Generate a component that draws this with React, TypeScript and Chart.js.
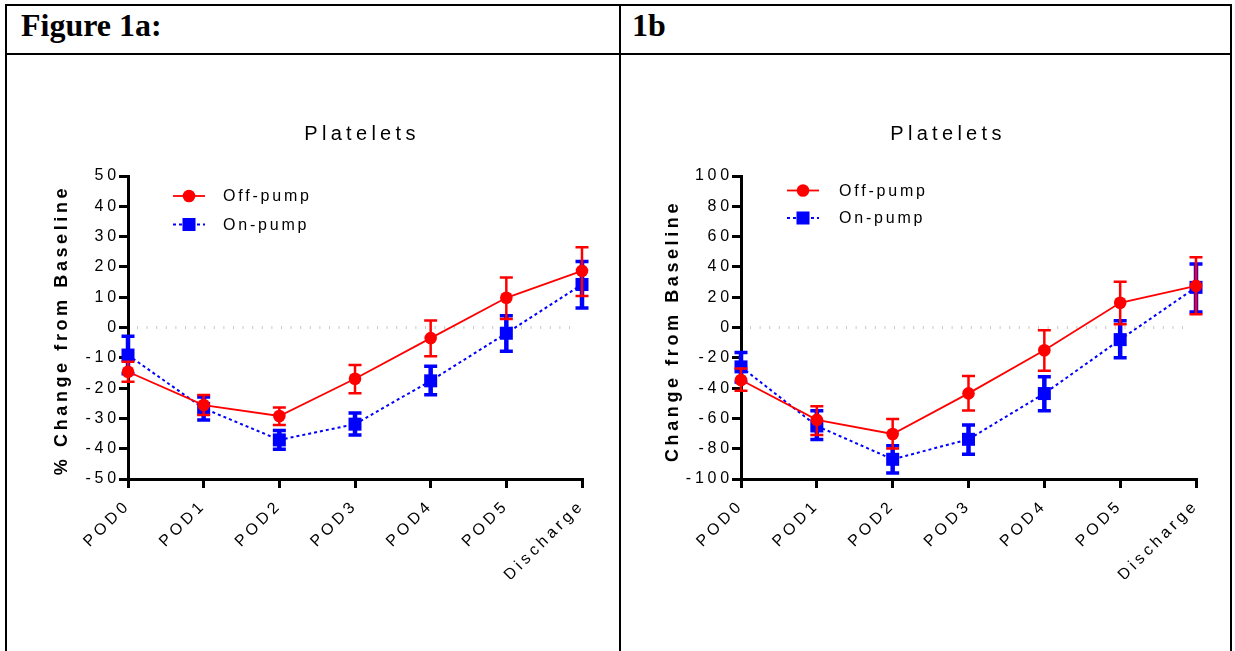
import React, { useEffect, useRef } from 'react';
import { Chart, registerables } from 'chart.js';

Chart.register(...registerables);

// ---------- data ----------
const categories = ['POD0', 'POD1', 'POD2', 'POD3', 'POD4', 'POD5', 'Discharge'];
const seriesNames = ['Off-pump', 'On-pump'];
const chartTitle = 'Platelets';
const headerA = 'Figure 1a:';
const headerB = '1b';
const yTitleA = '% Change from Baseline';
const yTitleB = 'Change from Baseline';

const yTicksA = [-50, -40, -30, -20, -10, 0, 10, 20, 30, 40, 50];
const yTicksB = [-100, -80, -60, -40, -20, 0, 20, 40, 60, 80, 100];

// Figure 1a (% change)
const offA = [-14.6, -25.6, -29.2, -16.9, -3.5, 9.8, 18.7];
const offALow = [-17.9, -28.9, -32.2, -21.7, -9.5, 2.8, 10.4];
const offAHigh = [-11.3, -22.3, -26.4, -12.4, 2.3, 16.5, 26.5];
const onA = [-9.1, -26.7, -37.1, -31.9, -17.6, -1.9, 14.2];
const onALow = [-15.3, -30.5, -40.2, -35.5, -22.2, -7.8, 6.4];
const onAHigh = [-2.9, -22.9, -34.0, -28.2, -12.8, 3.9, 21.8];

// Figure 1b (absolute change)
const offB = [-34.7, -61, -70.3, -43.5, -15, 16.3, 27.5];
const offBLow = [-41.8, -71, -79.8, -54.8, -28.5, 2.2, 8.8];
const offBHigh = [-27, -52, -60.4, -32, -1.8, 30.2, 46.4];
const onB = [-26, -65, -87, -73.8, -43.6, -8, 26.5];
const onBLow = [-36, -74, -96, -83.7, -55, -20, 10.3];
const onBHigh = [-16.5, -55, -78, -64.4, -32.5, 4.4, 41.9];

// ---------- styling ----------
const SANS = '"Liberation Sans", Arial, sans-serif';
const RED = '#ff0000';
const BLUE = '#0000ff';
const TICK_SPACING = '3.8px';

const decorPlugin = {
  id: 'decor',
  beforeLayout(chart: any) {
    chart.ctx.letterSpacing = TICK_SPACING;
  },
  beforeDraw(chart: any) {
    chart.ctx.letterSpacing = TICK_SPACING;
  },
  beforeDatasetsDraw(chart: any) {
    const { ctx, chartArea } = chart;
    const y0 = chart.scales.y.getPixelForValue(0);
    ctx.save();
    ctx.strokeStyle = '#c8c8c8';
    ctx.lineWidth = 3;
    ctx.setLineDash([1, 8.6]);
    ctx.beginPath();
    ctx.moveTo(chartArea.left + 9, y0);
    ctx.lineTo(chartArea.right - 6, y0);
    ctx.stroke();
    ctx.restore();
  },
  beforeDatasetDraw(chart: any, args: any) {
    const { ctx } = chart;
    const ds = chart.data.datasets[args.index];
    const meta = chart.getDatasetMeta(args.index);
    const ys = chart.scales.y;
    ctx.save();
    ctx.strokeStyle = ds.borderColor;
    ctx.setLineDash([]);
    ctx.lineCap = 'butt';
    meta.data.forEach((pt: any, i: number) => {
      const x = pt.x;
      const yl = ys.getPixelForValue(ds.errLow[i]);
      const yh = ys.getPixelForValue(ds.errHigh[i]);
      ctx.lineWidth = ds.errStem;
      ctx.beginPath();
      ctx.moveTo(x, yh);
      ctx.lineTo(x, yl);
      ctx.stroke();
      ctx.lineWidth = ds.errCap;
      const hw = ds.capWidth / 2;
      ctx.beginPath();
      ctx.moveTo(x - hw, yh);
      ctx.lineTo(x + hw, yh);
      ctx.moveTo(x - hw, yl);
      ctx.lineTo(x + hw, yl);
      ctx.stroke();
    });
    ctx.restore();
  },
  afterDraw(chart: any, _args: any, opts: any) {
    const { ctx } = chart;
    ctx.save();
    ctx.fillStyle = '#000';
    // chart title
    ctx.font = `20px ${SANS}`;
    ctx.letterSpacing = '4.3px';
    ctx.textAlign = 'center';
    ctx.textBaseline = 'middle';
    ctx.fillText(opts.title, opts.titleX, opts.titleY);
    // y axis title
    ctx.save();
    ctx.translate(opts.yTitleX, opts.yTitleY);
    ctx.rotate(-Math.PI / 2);
    ctx.font = `bold 18px ${SANS}`;
    ctx.letterSpacing = '3.6px';
    ctx.fillText(opts.yTitle, 0, 0);
    ctx.restore();
    // legend
    chart.data.datasets.forEach((ds: any, i: number) => {
      const y = opts.legendY + i * opts.legendGap;
      const x0 = opts.legendLineX;
      const x1 = x0 + 32;
      const cx = (x0 + x1) / 2;
      ctx.save();
      ctx.strokeStyle = ds.borderColor;
      ctx.lineWidth = ds.borderWidth;
      ctx.setLineDash(ds.borderDash || []);
      ctx.beginPath();
      ctx.moveTo(x0, y);
      ctx.lineTo(x1, y);
      ctx.stroke();
      ctx.setLineDash([]);
      ctx.fillStyle = ds.borderColor;
      if (ds.pointStyle === 'rect') {
        const s = ds.pointRadius * Math.SQRT1_2;
        ctx.fillRect(cx - s, y - s, 2 * s, 2 * s);
      } else {
        ctx.beginPath();
        ctx.arc(cx, y, ds.pointRadius, 0, Math.PI * 2);
        ctx.fill();
      }
      ctx.restore();
      ctx.fillStyle = '#000';
      ctx.font = `16px ${SANS}`;
      ctx.letterSpacing = '2.8px';
      ctx.textAlign = 'left';
      ctx.textBaseline = 'middle';
      ctx.fillText(ds.label, opts.legendTextX, y + 1);
    });
    ctx.restore();
  },
};

type Cfg = {
  left: number; top: number; w: number; h: number;
  areaLeft: number; areaTop: number; padRight: number; xAxisH: number; padBottom: number;
  titleX: number; titleY: number; yTitleX: number; yTitleY: number;
  legendLineX: number; legendY: number; legendGap: number; legendTextX: number;
};

const cfgA: Cfg = {
  left: 7, top: 55, w: 612, h: 596,
  areaLeft: 121, areaTop: 121, padRight: 37, xAxisH: 100, padBottom: 72,
  titleX: 355, titleY: 79, yTitleX: 55, yTitleY: 275,
  legendLineX: 166, legendY: 141, legendGap: 28.5, legendTextX: 216,
};
const cfgB: Cfg = {
  left: 621, top: 55, w: 609, h: 596,
  areaLeft: 120, areaTop: 121, padRight: 34, xAxisH: 100, padBottom: 72,
  titleX: 327, titleY: 79, yTitleX: 52, yTitleY: 276,
  legendLineX: 166, legendY: 135.5, legendGap: 27.5, legendTextX: 218,
};

function makeDatasets(off: number[], offLow: number[], offHigh: number[], on: number[], onLow: number[], onHigh: number[]) {
  return [
    {
      label: seriesNames[0], data: off, errLow: offLow, errHigh: offHigh,
      borderColor: RED, backgroundColor: RED, pointBackgroundColor: RED, pointBorderColor: RED,
      borderWidth: 1.8, pointStyle: 'circle', pointRadius: 6.3, pointBorderWidth: 0,
      errStem: 2.5, errCap: 2.5, capWidth: 13, tension: 0, clip: false,
    },
    {
      label: seriesNames[1], data: on, errLow: onLow, errHigh: onHigh,
      borderColor: BLUE, backgroundColor: BLUE, pointBackgroundColor: BLUE, pointBorderColor: BLUE,
      borderWidth: 2, borderDash: [3, 3], pointStyle: 'rect', pointRadius: 9.2, pointBorderWidth: 0,
      errStem: 4.5, errCap: 3.5, capWidth: 13, tension: 0, clip: false,
    },
  ];
}

function PlateletChart({ cfg, yTicks, yTitle, datasets }: { cfg: Cfg; yTicks: number[]; yTitle: string; datasets: any[] }) {
  const ref = useRef<HTMLCanvasElement>(null);
  useEffect(() => {
    const tickFont = { family: SANS, size: 16 };
    const gridOpts = { display: true, drawOnChartArea: false, drawTicks: true, tickLength: 9, tickWidth: 3, tickColor: '#000', color: '#000', lineWidth: 3 };
    const borderOpts = { display: true, width: 3, color: '#000' };
    const chart = new Chart(ref.current as HTMLCanvasElement, {
      type: 'line',
      data: { labels: categories, datasets: datasets as any },
      options: {
        responsive: false,
        animation: false,
        events: [],
        layout: { padding: { left: 0, top: cfg.areaTop, right: cfg.padRight, bottom: cfg.padBottom } },
        plugins: {
          legend: { display: false },
          title: { display: false },
          tooltip: { enabled: false },
          decor: {
            title: chartTitle, yTitle,
            titleX: cfg.titleX, titleY: cfg.titleY, yTitleX: cfg.yTitleX, yTitleY: cfg.yTitleY,
            legendLineX: cfg.legendLineX, legendY: cfg.legendY, legendGap: cfg.legendGap, legendTextX: cfg.legendTextX,
          },
        } as any,
        scales: {
          x: {
            type: 'category', offset: false,
            grid: gridOpts, border: borderOpts,
            ticks: { color: '#000', font: tickFont, minRotation: 45, maxRotation: 45, padding: 8, autoSkip: false },
            afterFit: (s: any) => { s.height = cfg.xAxisH; },
          } as any,
          y: {
            min: yTicks[0], max: yTicks[yTicks.length - 1],
            grid: gridOpts, border: borderOpts,
            ticks: { color: '#000', font: tickFont, stepSize: yTicks[1] - yTicks[0], padding: -1 },
            afterFit: (s: any) => { s.width = cfg.areaLeft; },
          } as any,
        },
      },
      plugins: [decorPlugin as any],
    });
    return () => chart.destroy();
  }, []);
  return (
    <canvas
      ref={ref}
      width={cfg.w}
      height={cfg.h}
      style={{ position: 'absolute', left: cfg.left, top: cfg.top, width: cfg.w, height: cfg.h }}
    />
  );
}

const line = (l: number, t: number, w: number, h: number) => (
  <div style={{ position: 'absolute', left: l, top: t, width: w, height: h, background: '#000' }} />
);

export default function App() {
  const headerStyle: React.CSSProperties = {
    position: 'absolute', top: 9, fontFamily: '"Liberation Serif", "Times New Roman", serif',
    fontWeight: 'bold', fontSize: 32, lineHeight: '32px', color: '#000', whiteSpace: 'nowrap',
  };
  return (
    <div style={{ position: 'absolute', left: 0, top: 0, width: 1235, height: 651, background: '#fff', overflow: 'hidden' }}>
      <div style={{ ...headerStyle, left: 21 }}>{headerA}</div>
      <div style={{ ...headerStyle, left: 632 }}>{headerB}</div>
      <PlateletChart cfg={cfgA} yTicks={yTicksA} yTitle={yTitleA} datasets={makeDatasets(offA, offALow, offAHigh, onA, onALow, onAHigh)} />
      <PlateletChart cfg={cfgB} yTicks={yTicksB} yTitle={yTitleB} datasets={makeDatasets(offB, offBLow, offBHigh, onB, onBLow, onBHigh)} />
      {line(5, 4, 1227, 2)}
      {line(5, 53, 1227, 2)}
      {line(5, 4, 2, 647)}
      {line(619, 4, 2, 647)}
      {line(1230, 4, 2, 647)}
    </div>
  );
}
